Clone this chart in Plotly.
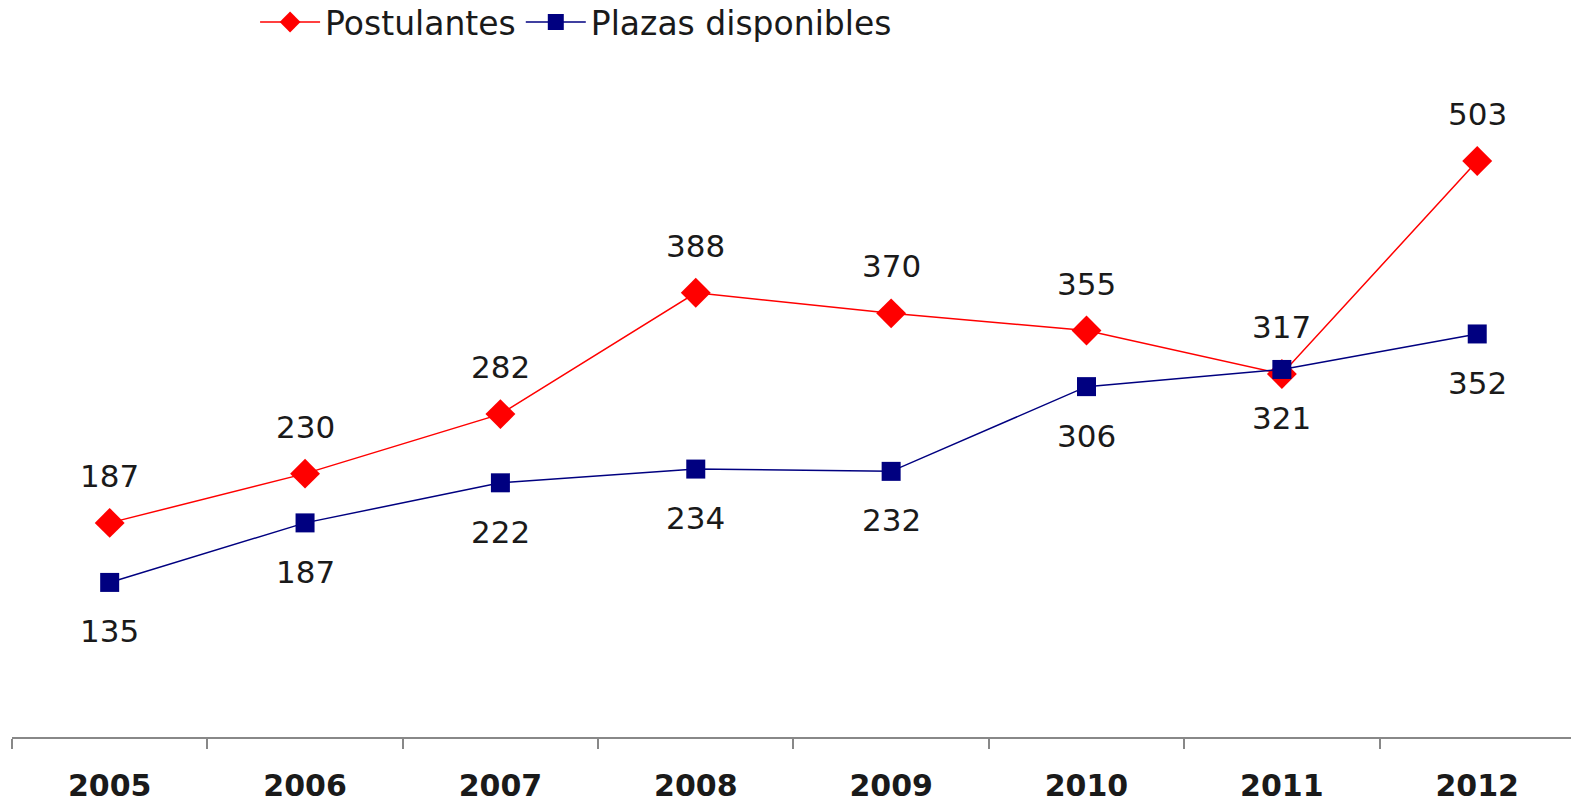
import plotly.graph_objects as go

years = ["2005", "2006", "2007", "2008", "2009", "2010", "2011", "2012"]
postulantes = [187, 230, 282, 388, 370, 355, 317, 503]
plazas = [135, 187, 222, 234, 232, 306, 321, 352]

FONT = "DejaVu Sans"
fig = go.Figure()
fig.add_trace(go.Scatter(
    x=years, y=postulantes, name="Postulantes", mode="lines+markers",
    line=dict(color="#FF0000", width=1.5),
    marker=dict(symbol="diamond", size=23, color="#FF0000"),
))
fig.add_trace(go.Scatter(
    x=years, y=plazas, name="Plazas disponibles", mode="lines+markers",
    line=dict(color="#000080", width=1.5),
    marker=dict(symbol="square", size=19, color="#000080"),
))

for i, y in enumerate(postulantes):
    fig.add_annotation(x=i, y=y, text=str(y), showarrow=False, yshift=47,
                       font=dict(family=FONT, size=31, color="#1a1a1a"))
for i, y in enumerate(plazas):
    fig.add_annotation(x=i, y=y, text=str(y), showarrow=False, yshift=-49,
                       font=dict(family=FONT, size=31, color="#1a1a1a"))

fig.update_layout(
    width=1571, height=804,
    margin=dict(l=12, r=0, t=50, b=67, autoexpand=False),
    paper_bgcolor="white", plot_bgcolor="white",
    font=dict(family=FONT, color="#1a1a1a"),
    legend=dict(orientation="h", x=0.3667, xref="container", xanchor="center",
                y=0.9726, yref="container", yanchor="middle",
                font=dict(family=FONT, size=33), itemwidth=60,
                bgcolor="rgba(0,0,0,0)"),
    showlegend=True,
)
fig.update_xaxes(type="category", range=[-0.5, 7.48], tickson="boundaries",
                 ticks="outside", ticklen=10, tickcolor="#888888", tickwidth=1.5,
                 showline=True, linecolor="#888888", linewidth=1.5,
                 showgrid=False, zeroline=False, ticklabelstandoff=21,
                 tickfont=dict(family=FONT, size=30, color="#1a1a1a", weight="bold"))
fig.update_yaxes(range=[0, 600], visible=False, showgrid=False, zeroline=False)

fig.write_html("out.html", config={"displayModeBar": False},
               post_script="document.body.style.margin='0';")
